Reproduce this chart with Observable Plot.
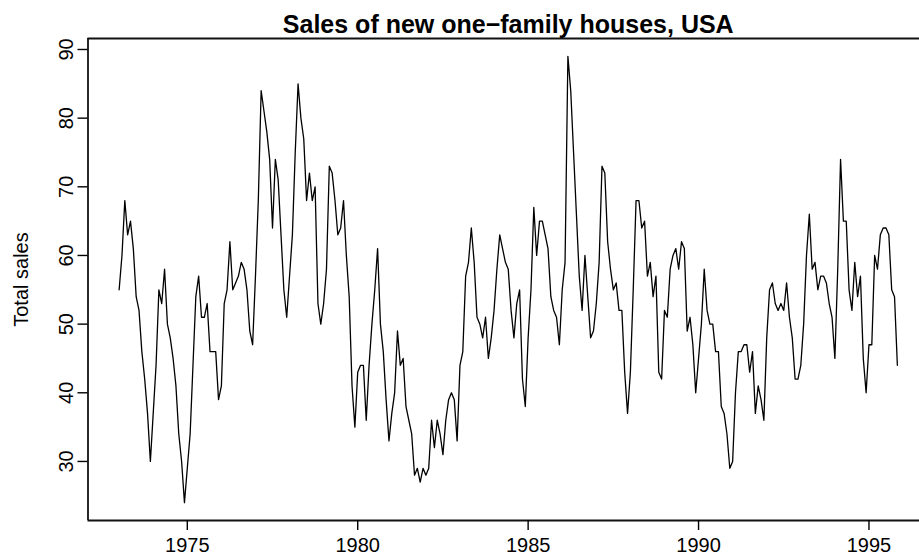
<!DOCTYPE html>
<html><head><meta charset="utf-8">
<script src="https://cdn.jsdelivr.net/npm/d3@7"></script>
<script src="https://cdn.jsdelivr.net/npm/@observablehq/plot@0.6"></script>
<style>html,body{margin:0;padding:0;background:#fff;overflow:hidden;} #chart svg{overflow:hidden;display:block;}</style>
</head><body><div id="chart"></div>
<script>
const title = "Sales of new one\u2212family houses, USA";
const yLabel = "Total sales";
const startYear = 1973;
const sales = [
  55,60,68,63,65,61,54,52,46,42,37,30,
  37,44,55,53,58,50,48,45,41,34,30,24,
  29,34,44,54,57,51,51,53,46,46,46,39,
  41,53,55,62,55,56,57,59,58,55,49,47,
  57,68,84,81,78,74,64,74,71,63,55,51,
  57,63,75,85,80,77,68,72,68,70,53,50,
  53,58,73,72,68,63,64,68,60,54,41,35,
  43,44,44,36,44,50,55,61,50,46,39,33,
  37,40,49,44,45,38,36,34,28,29,27,29,
  28,29,36,32,36,34,31,36,39,40,39,33,
  44,46,57,59,64,59,51,50,48,51,45,48,
  52,58,63,61,59,58,52,48,53,55,42,38,
  48,55,67,60,65,65,63,61,54,52,51,47,
  55,59,89,84,75,66,57,52,60,54,48,49,
  53,59,73,72,62,58,55,56,52,52,43,37,
  43,55,68,68,64,65,57,59,54,57,43,42,
  52,51,58,60,61,58,62,61,49,51,47,40,
  45,50,58,52,50,50,46,46,38,37,34,29,
  30,40,46,46,47,47,43,46,37,41,39,36,
  48,55,56,53,52,53,52,56,51,48,42,42,
  44,50,60,66,58,59,55,57,57,56,53,51,
  45,58,74,65,65,55,52,59,54,57,45,40,
  47,47,60,58,63,64,64,63,55,54,44
];
const xTicks = [1975, 1980, 1985, 1990, 1995];
const yTicks = [30, 40, 50, 60, 70, 80, 90];

const data = sales.map((v, i) => ({t: startYear + i / 12, v}));
const tMin = data[0].t, tMax = data[data.length - 1].t;
const vMin = d3.min(sales), vMax = d3.max(sales);
const padX = 0.04 * (tMax - tMin), padY = 0.04 * (vMax - vMin);
const xDomain = [tMin - padX, tMax + padX];
const yDomain = [vMin - padY, vMax + padY];

const font = "'Liberation Sans', Arial, Helvetica, sans-serif";
const chart = Plot.plot({
  width: 919, height: 559,
  marginLeft: 87.5, marginRight: -9, marginTop: 38, marginBottom: 39,
  style: {fontFamily: font, fontSize: "20px", color: "#000", background: "#fff"},
  x: {domain: xDomain},
  y: {domain: yDomain},
  marks: [
    Plot.ruleY(yDomain, {stroke: "#111", strokeWidth: 1.8}),
    Plot.ruleX([xDomain[0]], {stroke: "#111", strokeWidth: 1.8}),
    Plot.axisX(xTicks, {tickSize: 10, tickPadding: 7, fontSize: 20, label: null, tickFormat: d => String(d), strokeWidth: 1.4}),
    Plot.axisY(yTicks, {tickSize: 10, tickFormat: () => "", label: null, strokeWidth: 1.4}),
    Plot.text(yTicks, {y: d => d, text: d => String(d), frameAnchor: "left", rotate: -90, dx: -15.5, textAnchor: "middle", lineAnchor: "bottom", fontSize: 20}),
    Plot.text([yLabel], {text: d => d, frameAnchor: "left", rotate: -90, dx: -60.5, textAnchor: "middle", lineAnchor: "bottom", fontSize: 20}),
    Plot.text([title], {text: d => d, frameAnchor: "top", dy: -6, lineAnchor: "bottom", fontSize: 25, fontWeight: "bold"}),
    Plot.line(data, {x: "t", y: "v", stroke: "#000", strokeWidth: 1.3})
  ]
});
document.getElementById("chart").appendChild(chart);
</script>
</body></html>
